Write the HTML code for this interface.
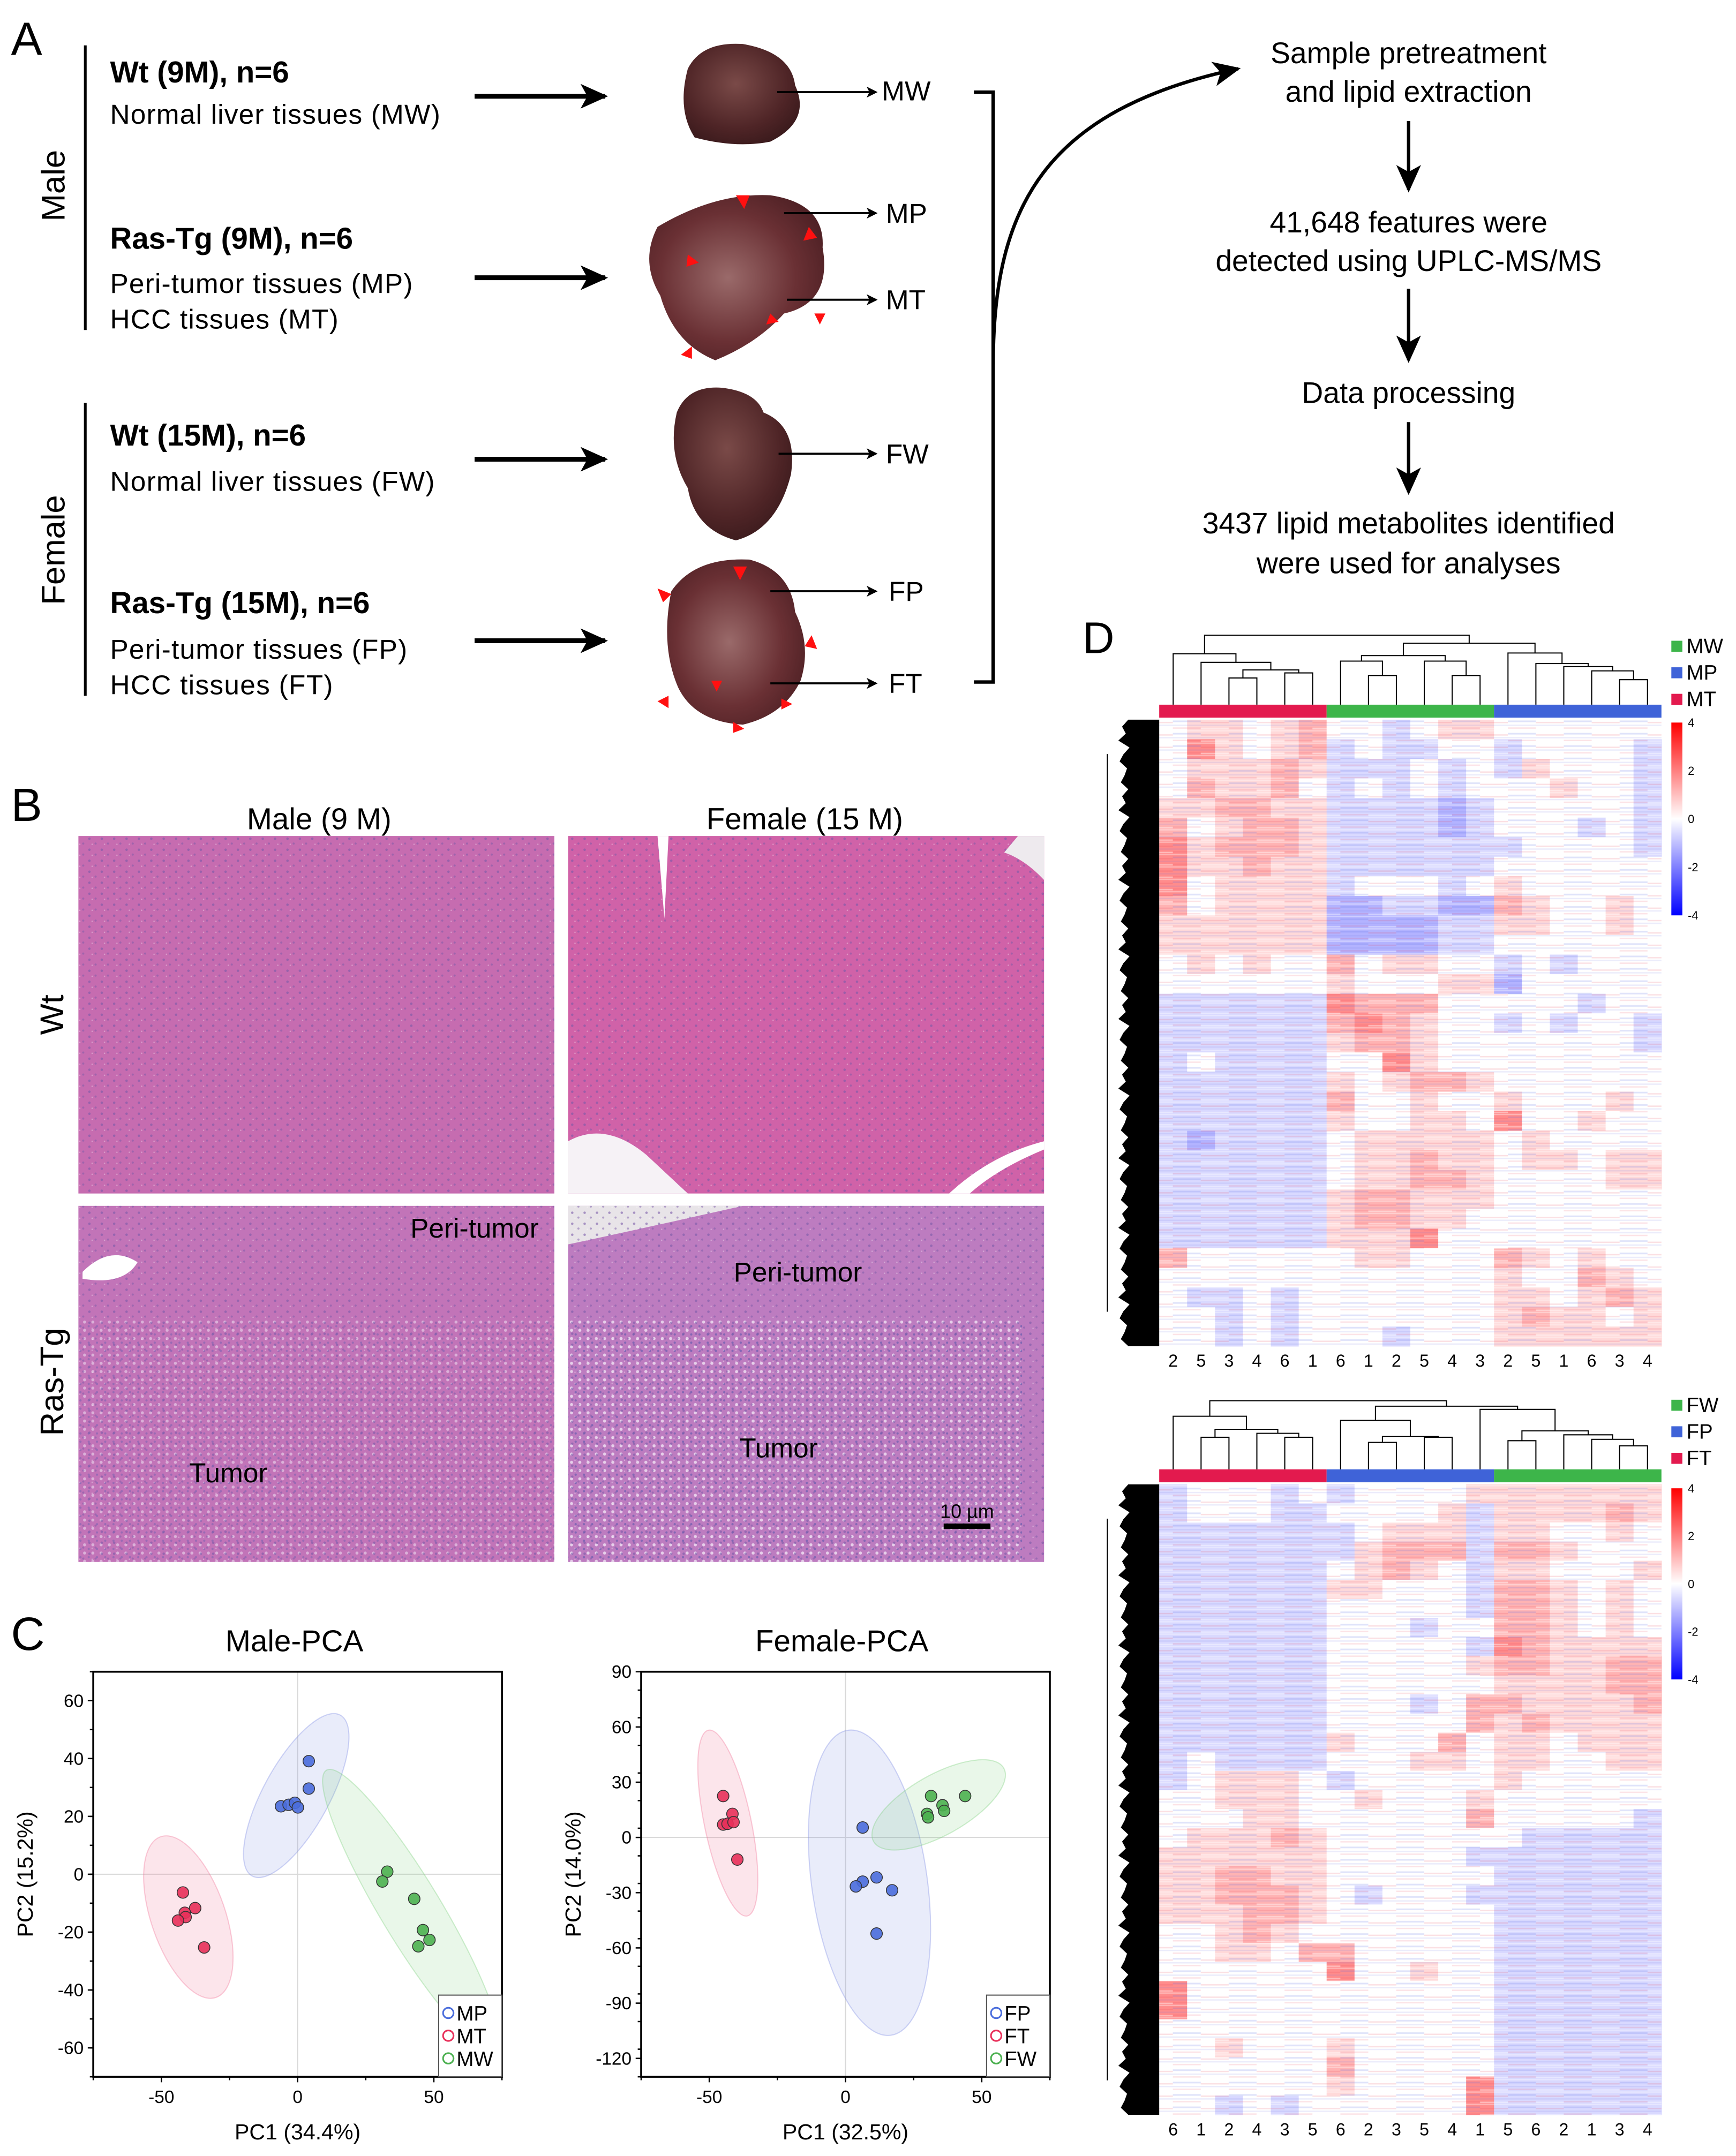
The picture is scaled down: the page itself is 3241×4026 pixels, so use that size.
<!DOCTYPE html>
<html><head><meta charset="utf-8">
<style>
html,body{margin:0;padding:0;background:#fff;}
#root{width:3241px;height:4026px;overflow:hidden;}
svg text{font-family:"Liberation Sans",Arial,sans-serif;fill:#000;}
.nar{font-family:"Liberation Sans Narrow","Liberation Sans",sans-serif !important;}
</style></head>
<body>
<div id="root">
<svg id="fig" width="3241" height="4026" viewBox="0 0 1262 1568" preserveAspectRatio="none" xmlns="http://www.w3.org/2000/svg">
<defs>
<radialGradient id="liver" cx="45%" cy="40%" r="65%"><stop offset="0" stop-color="#7a4a48"/><stop offset="0.7" stop-color="#4e2426"/><stop offset="1" stop-color="#3a1a1c"/></radialGradient>
<radialGradient id="liverT" cx="45%" cy="50%" r="65%"><stop offset="0" stop-color="#9a6a6a"/><stop offset="0.6" stop-color="#6a3034"/><stop offset="1" stop-color="#4a1e22"/></radialGradient>
<pattern id="nuc" width="9" height="8" patternUnits="userSpaceOnUse"><circle cx="2" cy="2" r="0.9" fill="#7a5aa8" opacity="0.6"/><circle cx="6.5" cy="5.5" r="0.8" fill="#7a5aa8" opacity="0.5"/><circle cx="4" cy="6" r="0.5" fill="#fff" opacity="0.35"/></pattern>
<pattern id="tum" width="6" height="6" patternUnits="userSpaceOnUse"><circle cx="1.5" cy="1.5" r="1.1" fill="#f0e4f4" opacity="0.55"/><circle cx="4.5" cy="4.5" r="0.8" fill="#7060b0" opacity="0.5"/></pattern>
<pattern id="stripes" width="40.6" height="9" patternUnits="userSpaceOnUse"><rect x="0" y="0" width="40.6" height="1" fill="rgba(255,255,255,0.35)"/><rect x="0" y="2" width="20.3" height="1.2" fill="rgba(80,100,230,0.18)"/><rect x="20.3" y="3" width="20.3" height="1" fill="rgba(230,60,80,0.16)"/><rect x="0" y="5" width="40.6" height="1" fill="rgba(110,120,230,0.14)"/><rect x="0" y="7" width="20.3" height="1" fill="rgba(235,70,90,0.15)"/><rect x="20.3" y="7.5" width="20.3" height="1" fill="rgba(255,255,255,0.4)"/></pattern>
<linearGradient id="cbar" x1="0" y1="0" x2="0" y2="1"><stop offset="0" stop-color="#ff0000"/><stop offset="0.5" stop-color="#ffffff"/><stop offset="1" stop-color="#0000ff"/></linearGradient>
<marker id="ah" markerWidth="8" markerHeight="8" refX="7" refY="4" orient="auto" markerUnits="userSpaceOnUse"><path d="M0,0 L8,4 L0,8 L2,4 Z" fill="#000"/></marker>
<marker id="ahb" markerWidth="20" markerHeight="18" refX="18" refY="9" orient="auto" markerUnits="userSpaceOnUse"><path d="M0,0 L20,9 L0,18 L5,9 Z" fill="#000"/></marker>
</defs>

<!-- PANEL A -->
<g>
<text x="8" y="40" font-size="34">A</text>
<line x1="62" y1="33" x2="62" y2="240" stroke="#000" stroke-width="2"/>
<text transform="translate(47,135) rotate(-90)" text-anchor="middle" font-size="24">Male</text>
<text x="80" y="60" font-size="22" class="nar" font-weight="bold">Wt (9M), n=6</text>
<text x="80" y="90" font-size="20" class="nar" textLength="240">Normal liver tissues (MW)</text>
<text x="80" y="181" font-size="22" class="nar" font-weight="bold">Ras-Tg (9M), n=6</text>
<text x="80" y="213" font-size="20" class="nar" textLength="220">Peri-tumor tissues (MP)</text>
<text x="80" y="239" font-size="20" class="nar" textLength="166">HCC tissues (MT)</text>
<line x1="62" y1="293" x2="62" y2="506" stroke="#000" stroke-width="2"/>
<text transform="translate(47,400) rotate(-90)" text-anchor="middle" font-size="24">Female</text>
<text x="80" y="324" font-size="22" class="nar" font-weight="bold">Wt (15M), n=6</text>
<text x="80" y="357" font-size="20" class="nar" textLength="236">Normal liver tissues (FW)</text>
<text x="80" y="446" font-size="22" class="nar" font-weight="bold">Ras-Tg (15M), n=6</text>
<text x="80" y="479" font-size="20" class="nar" textLength="216">Peri-tumor tissues (FP)</text>
<text x="80" y="505" font-size="20" class="nar" textLength="162">HCC tissues (FT)</text>
<g stroke="#000" stroke-width="3.5" fill="none">
<line x1="345" y1="70" x2="440" y2="70" marker-end="url(#ahb)"/>
<line x1="345" y1="202" x2="440" y2="202" marker-end="url(#ahb)"/>
<line x1="345" y1="334" x2="440" y2="334" marker-end="url(#ahb)"/>
<line x1="345" y1="466" x2="440" y2="466" marker-end="url(#ahb)"/>
</g>
<path d="M500,50 Q510,30 540,32 Q575,38 578,62 Q590,88 560,103 Q535,108 505,100 Q492,80 500,50Z" fill="url(#liver)"/>
<path d="M478,165 Q520,140 560,142 Q600,148 598,180 Q605,220 570,228 Q550,250 520,262 Q490,250 480,215 Q465,190 478,165Z" fill="url(#liverT)"/>
<path d="M492,300 Q500,280 525,282 Q550,285 555,300 Q580,310 575,345 Q565,385 535,393 Q505,385 500,355 Q485,330 492,300Z" fill="url(#liver)"/>
<path d="M488,430 Q505,405 545,407 Q575,415 578,445 Q590,470 582,495 Q570,520 540,527 Q505,525 493,500 Q480,470 488,430Z" fill="url(#liverT)"/>
<g fill="#ff1010">
<path d="M535,142 l10,0 l-4,10z"/><path d="M588,165 l6,8 l-10,2z"/><path d="M500,185 l8,6 l-9,3z"/><path d="M560,228 l6,6 l-9,2z"/><path d="M592,228 l8,0 l-4,8z"/><path d="M495,258 l8,-6 l0,9z"/>
<path d="M533,412 l10,0 l-5,10z"/><path d="M478,428 l10,4 l-6,6z"/><path d="M590,462 l4,10 l-9,-2z"/><path d="M517,495 l8,0 l-4,8z"/><path d="M478,510 l8,-4 l0,9z"/><path d="M568,508 l8,4 l-8,4z"/><path d="M533,525 l8,5 l-8,3z"/>
</g>
<g stroke="#000" stroke-width="1.5">
<line x1="565" y1="67" x2="637" y2="67" marker-end="url(#ah)"/>
<line x1="570" y1="155" x2="637" y2="155" marker-end="url(#ah)"/>
<line x1="572" y1="218" x2="637" y2="218" marker-end="url(#ah)"/>
<line x1="566" y1="330" x2="637" y2="330" marker-end="url(#ah)"/>
<line x1="560" y1="430" x2="637" y2="430" marker-end="url(#ah)"/>
<line x1="560" y1="497" x2="637" y2="497" marker-end="url(#ah)"/>
</g>
<g font-size="20" class="nar">
<text x="641" y="73" class="nar">MW</text><text x="644" y="162" class="nar">MP</text><text x="644" y="225" class="nar">MT</text>
<text x="644" y="337" class="nar">FW</text><text x="646" y="437" class="nar">FP</text><text x="646" y="504" class="nar">FT</text>
</g>
<path d="M708,67 H722 V496 H708" fill="none" stroke="#000" stroke-width="2.5"/>
<path d="M722,265 C722,150 760,80 900,50" fill="none" stroke="#000" stroke-width="2.5" marker-end="url(#ahb)"/>
<g font-size="21.5" text-anchor="middle">
<text x="1024" y="46">Sample pretreatment</text>
<text x="1024" y="74">and lipid extraction</text>
<text x="1024" y="169">41,648 features were</text>
<text x="1024" y="197">detected using UPLC-MS/MS</text>
<text x="1024" y="293">Data processing</text>
<text x="1024" y="388">3437 lipid metabolites identified</text>
<text x="1024" y="417">were used for analyses</text>
</g>
<g stroke="#000" stroke-width="2.5">
<line x1="1024" y1="88" x2="1024" y2="138" marker-end="url(#ahb)"/>
<line x1="1024" y1="210" x2="1024" y2="262" marker-end="url(#ahb)"/>
<line x1="1024" y1="307" x2="1024" y2="358" marker-end="url(#ahb)"/>
</g>
</g>

<!-- PANEL B -->
<g>
<text x="8" y="597" font-size="34">B</text>
<text x="232" y="603" font-size="22" text-anchor="middle">Male (9 M)</text>
<text x="585" y="603" font-size="22" text-anchor="middle">Female (15 M)</text>
<text transform="translate(46,738) rotate(-90)" font-size="24" text-anchor="middle">Wt</text>
<text transform="translate(46,1005) rotate(-90)" font-size="24" text-anchor="middle">Ras-Tg</text>
<g><rect x="57" y="608" width="346" height="260" fill="#c66cb0"/><rect x="57" y="608" width="346" height="260" fill="url(#nuc)"/></g>
<g><rect x="413" y="608" width="346" height="260" fill="#d062a8"/><rect x="413" y="608" width="346" height="260" fill="url(#nuc)"/>
<path d="M413,830 Q440,815 470,840 L500,868 L413,868Z" fill="#f6f2f6"/><path d="M740,608 L759,608 L759,640 Q745,625 730,620Z" fill="#eeeaee"/><path d="M690,868 Q720,840 759,830 L759,836 Q725,850 705,868Z" fill="#fff"/><path d="M478,608 l8,0 l-3,60z" fill="#fff"/></g>
<g><rect x="57" y="877" width="346" height="259" fill="#c274b8"/><rect x="57" y="960" width="346" height="176" fill="url(#tum)"/><rect x="57" y="877" width="346" height="259" fill="url(#nuc)"/><path d="M60,925 Q80,905 100,918 Q90,935 60,930Z" fill="#fff"/></g>
<g><rect x="413" y="877" width="346" height="259" fill="#bd7cc0"/><path d="M413,877 H540 Q460,895 413,905Z" fill="#e8e4e8"/><rect x="413" y="960" width="330" height="176" fill="url(#tum)"/><rect x="413" y="960" width="330" height="176" fill="url(#tum)"/><rect x="413" y="877" width="346" height="259" fill="url(#nuc)"/></g>
<g font-size="20">
<text x="345" y="900" text-anchor="middle" class="nar">Peri-tumor</text>
<text x="580" y="932" text-anchor="middle" class="nar">Peri-tumor</text>
<text x="166" y="1078" text-anchor="middle" class="nar">Tumor</text>
<text x="566" y="1060" text-anchor="middle" class="nar">Tumor</text>
<text x="703" y="1104" text-anchor="middle" font-size="14" class="nar">10 µm</text>
</g>
<rect x="686" y="1108" width="34" height="4" fill="#000"/>
</g>

<!-- PANEL C -->
<g id="panelC">
<text x="8" y="1200" font-size="34">C</text>
<text x="214" y="1201" font-size="22" text-anchor="middle">Male-PCA</text>
<text x="612" y="1201" font-size="22" text-anchor="middle">Female-PCA</text>
</g>

<!-- PANEL D -->
<g id="panelD">
<text x="787" y="475" font-size="32">D</text>
</g>
</svg>
</div>

<script>
// ===== PCA data =====
const maleMPx=[4.1,4.1,-6.1,-3.3,-1.0,0.1];
const maleMPy=[39.1,29.6,23.5,24.0,24.7,23.1];
const maleMTx=[-42.1,-37.6,-41.4,-41.1,-43.9,-34.3];
const maleMTy=[-6.3,-11.7,-13.3,-14.8,-16.0,-25.3];
const maleMWx=[32.9,31.1,42.8,46.0,48.4,44.3];
const maleMWy=[0.9,-2.5,-8.5,-19.3,-22.7,-24.9];
const femFPx=[6.3,11.4,6.3,3.8,17.1,11.4];
const femFPy=[5.4,-21.7,-24.0,-26.6,-28.7,-52.2];
const femFTx=[-44.9,-41.5,-44.9,-43.3,-41.1,-39.7];
const femFTy=[22.5,12.8,7.0,7.4,8.3,-12.0];
const femFWx=[31.4,35.6,36.2,29.9,30.3,43.9];
const femFWy=[22.5,17.5,14.4,12.8,10.9,22.5];
const maleEllCx=[-0.5,-40.1,41.7];
const maleEllCy=[27.2,-14.8,-12.6];
const femEllCx=[8.8,-43.2,34.2];
const femEllCy=[-24.6,7.8,17.7];
const xTicks=[-50,0,50];
const maleYTicks=[-60,-40,-20,0,20,40,60];
const femYTicks=[-120,-90,-60,-30,0,30,60,90];
const maleGroups=["MP","MT","MW"];
const femGroups=["FP","FT","FW"];

// ===== Heatmap data (each char 0..8 -> value (c-4)*0.6 ; columns MT/MW/MP and FT/FP/FW) =====
const maleCols=["2","5","3","4","6","1","6","1","2","5","4","3","2","5","1","6","3","4"];
const femCols=["6","1","2","4","3","5","6","2","3","5","4","1","5","6","2","1","3","4"];
const maleRows=["455456443455444444","475456343344344443","455565333434354443","465564343434445443","556655333323444443","645665333323444343","756665333333344443","755655333333444444","745555344434544444","645555223322654454","555555222233554454","555555222233444444","454544645544343444","444444544455244444","333333766644444344","333333676544343443","333333566544444443","343333447544444444","333333545665444444","333333644544544454","333333544554744544","323333455555454444","333333455655455455","333333455665444455","333333566555444444","333333566554444444","333333555744444444","644444455444654544","444444444444544654","433434444444554565","443434444444565545","443434443444555555"];
const femRows=["344434344445555555","344433444453555565","333333345553554454","333333356663665444","333333456543554445","333333554443665454","333333444443665454","333333444344665454","333333444443765555","333333444445665566","333333444444555566","333333444346655556","333333444446565555","333333544464554555","343333444554554455","345554344444544444","445554454445444444","444554444446444443","455565444444433333","555555444443333333","556655444444333333","556665434443333333","555665444444333333","445654444444333333","445546644444333333","444444744544333333","744444444444333333","744444444444333333","444444444444333333","445444544444333333","444444644444333333","444444544447333333","443434444447333333"];
// dendrogram merges: [childA, childB, height] ; leaves 0..17
const maleMerges=[[2,3,493.1],[4,5,489.4],[18,19,487.2],[1,20,481.7],[0,21,475.5],[7,8,491.3],[6,23,480.8],[10,11,491.3],[9,25,480.8],[24,26,476.8],[16,17,494.3],[15,28,487.9],[14,29,484.8],[13,30,482.6],[12,31,474.9],[27,32,467.8],[22,33,462]];
const femMerges=[[7,8,1049],[9,10,1045.3],[18,19,1044.6],[6,20,1033],[12,13,1047.8],[16,17,1051.5],[15,23,1046.8],[14,24,1043.5],[22,25,1040.6],[11,26,1025],[21,27,1022.7],[1,2,1045.3],[4,5,1045.3],[3,30,1042.4],[29,31,1039.5],[0,32,1030],[33,28,1018.7]];

const NS="http://www.w3.org/2000/svg";
function mk(tag,attrs,parent){const e=document.createElementNS(NS,tag);for(const k in attrs)e.setAttribute(k,attrs[k]);parent.appendChild(e);return e;}
const C=document.getElementById('panelC');
const D=document.getElementById('panelD');
const COL={blue:"#4a6ddc",red:"#e8305a",green:"#4cb050"};
const FILL={blue:"rgba(120,135,225,0.16)",red:"rgba(240,110,145,0.18)",green:"rgba(120,205,120,0.16)"};

function pca(box,ymin,ymax,yTicks,series,ells,ellGeom,groups,xTitle,yTitle,prefix){
  const sx=v=>box.l+(v+75)/150*(box.r-box.l);
  const sy=v=>box.b-(v-ymin)/(ymax-ymin)*(box.b-box.t);
  const g=mk('g',{},C);
  
  
  const z1=mk('line',{x1:sx(0),x2:sx(0),y1:box.t,y2:box.b,stroke:"#d8d8d8","stroke-width":0.8},g);
  
  
  const z2=mk('line',{x1:box.l,x2:box.r,y1:sy(0),y2:sy(0),stroke:"#d8d8d8","stroke-width":0.8},g);
  
  
  const keys=["blue","red","green"];
  ells.cx.forEach((cx,i)=>{
    const e=mk('ellipse',{cx:sx(cx),cy:sy(ells.cy[i]),rx:ellGeom[i][0],ry:ellGeom[i][1],transform:`rotate(${ellGeom[i][2]} ${sx(cx)} ${sy(ells.cy[i])})`,fill:FILL[keys[i]],stroke:FILL[keys[i]].replace(/0\.1\d\)/,'0.35)'),"stroke-width":0.8},g);
    
    
  });
  series.forEach((s,i)=>{
    s[0].forEach((x,j)=>{
      const c=mk('circle',{cx:sx(x),cy:sy(s[1][j]),r:4.2,fill:COL[keys[i]],stroke:"#333","stroke-width":0.6,"fill-opacity":0.9},g);
      
      
    });
  });
  const fr=mk('rect',{x:box.l,y:box.t,width:box.r-box.l,height:box.b-box.t,fill:"none",stroke:"#000","stroke-width":1.4},g);
  
  
  xTicks.forEach(v=>{
    mk('line',{x1:sx(v),x2:sx(v),y1:box.b,y2:box.b+4,stroke:"#000","stroke-width":1},g);
    const t=mk('text',{x:sx(v),y:box.b+19,"text-anchor":"middle","font-size":13},g);t.textContent=v;
    
    
  });
  [-75,-25,25,75].forEach(v=>mk('line',{x1:sx(v),x2:sx(v),y1:box.b,y2:box.b+2.5,stroke:"#000","stroke-width":1},g));
  const step=yTicks[1]-yTicks[0];
  for(let v=ymin;v<=ymax+0.01;v+=step/2){mk('line',{x1:box.l-2.5,x2:box.l,y1:sy(v),y2:sy(v),stroke:"#000","stroke-width":1},g);}
  yTicks.forEach(v=>{
    mk('line',{x1:box.l-4,x2:box.l,y1:sy(v),y2:sy(v),stroke:"#000","stroke-width":1},g);
    const t=mk('text',{x:box.l-7,y:sy(v)+4.5,"text-anchor":"end","font-size":13},g);t.textContent=v;
    
    
  });
  const xt=mk('text',{x:(box.l+box.r)/2,y:1556,"text-anchor":"middle","font-size":16},g);xt.textContent=xTitle;
  
  
  const yx=box.l-44;
  const yt=mk('text',{transform:`translate(${yx},${(box.t+box.b)/2}) rotate(-90)`,"text-anchor":"middle","font-size":16},g);yt.textContent=yTitle;
  
  
  const lx=box.r-46, ly=1451;
  const lg=mk('g',{},g);
  
  
  mk('rect',{x:lx,y:ly,width:46,height:box.b-ly,fill:"#fff",stroke:"#555","stroke-width":0.8},lg);
  groups.forEach((gname,i)=>{
    const yy=ly+13+i*16.5;
    const c=mk('circle',{cx:lx+7,cy:yy,r:3.8,fill:"none",stroke:COL[keys[i]],"stroke-width":1.2},lg);
    
    
    const t=mk('text',{x:lx+13,y:yy+5.5,"font-size":15},lg);t.textContent=gname;
    
    
  });
}
pca({l:67.8,r:364.9,t:1215.8,b:1510.4},-70,70,maleYTicks,[[maleMPx,maleMPy],[maleMTx,maleMTy],[maleMWx,maleMWy]],{cx:maleEllCx,cy:maleEllCy},[[66.7,24,118.7],[61.8,27,71],[119.3,22,58.9]],maleGroups,"PC1 (34.4%)","PC2 (15.2%)","male-pca");
pca({l:466.1,r:763.2,t:1215.8,b:1510.4},-130,90,femYTicks,[[femFPx,femFPy],[femFTx,femFTy],[femFWx,femFWy]],{cx:femEllCx,cy:femEllCy},[[112,42,82],[69,17,78.2],[54.3,22,-29.4]],femGroups,"PC1 (32.5%)","PC2 (14.0%)","female-pca");

// ===== Heatmaps =====
function colorOf(v){const t=Math.max(-1,Math.min(1,v/4));
  if(t>=0){const c=Math.round(255*(1-t));return `rgb(255,${c},${c})`;}
  const c=Math.round(255*(1+t));return `rgb(${c},${c},255)`;}
function heatmap(cfg){
  const L=842.7,R=1207.8,cw=(R-L)/18;
  const cx=i=>L+(i+0.5)*cw;
  const g=mk('g',{},D);
  
  
  const rh=(cfg.bottom-cfg.top)/cfg.rows.length;
  cfg.rows.forEach((row,ri)=>{
    for(let ci=0;ci<18;ci++){
      const v=(parseInt(row[ci])-4)*0.6;
      const r=mk('rect',{x:L+ci*cw,y:cfg.top+ri*rh,width:cw+0.3,height:rh+0.3,fill:colorOf(v)},g);
      
      
    }
  });
  const ov=mk('rect',{x:L,y:cfg.top,width:R-L,height:cfg.bottom-cfg.top,fill:"url(#stripes)"},g);
  
  
  cfg.barColors.forEach((c,i)=>{
    const b=mk('rect',{x:L+i*6*cw,y:cfg.barTop,width:6*cw,height:cfg.top-cfg.barTop-1.5,fill:c},g);
    
    
  });
  const nx=[],nh=[];
  for(let i=0;i<18;i++){nx.push(cx(i));nh.push(cfg.barTop);}
  let d="";
  cfg.merges.forEach(m=>{
    const a=m[0],b=m[1],h=m[2];
    d+=`M${nx[a]},${nh[a]}V${h}H${nx[b]}V${nh[b]}`;
    nx.push((nx[a]+nx[b])/2);nh.push(h);
  });
  const dp=mk('path',{d:d,fill:"none",stroke:"#000","stroke-width":0.8},g);
  
  
  let p=`M842.7,${cfg.top}`;
  const n=90;
  for(let k=0;k<=n;k++){const y=cfg.top+(cfg.bottom-cfg.top)*k/n;const w=[10,20,14,26,8,18,24,12,16,22][k%10];p+=`L${842.7-18-w*0.45},${y}`;}
  p+=`L842.7,${cfg.bottom}Z`;
  const rd=mk('path',{d:p,fill:"#000"},g);
  
  
  mk('line',{x1:805,x2:805,y1:cfg.top+25,y2:cfg.bottom-25,stroke:"#000","stroke-width":0.8},g);
  cfg.labels.forEach((lab,i)=>{
    const t=mk('text',{x:cx(i),y:cfg.bottom+15,"text-anchor":"middle","font-size":12.5},g);t.textContent=lab;
    
    
  });
  cfg.legend.forEach((lg,i)=>{
    const y=cfg.legTop+i*19.3;
    const s=mk('rect',{x:1215,y:y-8,width:8,height:8,fill:lg[1]},g);
    
    
    const t=mk('text',{x:1226,y:y+1,"font-size":15},g);t.textContent=lg[0];
    
    
  });
  const cb=mk('rect',{x:1215,y:cfg.cbTop,width:8,height:cfg.cbBot-cfg.cbTop,fill:"url(#cbar)"},g);
  
  
  [4,2,0,-2,-4].forEach((v,i)=>{
    const t=mk('text',{x:1227,y:cfg.cbTop+(cfg.cbBot-cfg.cbTop)*i/4+3,"font-size":8.5},g);t.textContent=v;
    
    
  });
}
heatmap({prefix:"male",rows:maleRows,top:523.4,bottom:979,barTop:512.5,merges:maleMerges,labels:maleCols,
  barColors:["#e31a4e","#3db54a","#3f63d8"],groups:["MT","MW","MP"],
  legend:[["MW","#3db54a"],["MP","#3f63d8"],["MT","#e31a4e"]],legTop:474,cbTop:525.5,cbBot:665.7});
heatmap({prefix:"female",rows:femRows,top:1079.5,bottom:1538,barTop:1068.6,merges:femMerges,labels:femCols,
  barColors:["#e31a4e","#3f63d8","#3db54a"],groups:["FT","FP","FW"],
  legend:[["FW","#3db54a"],["FP","#3f63d8"],["FT","#e31a4e"]],legTop:1026,cbTop:1082.4,cbBot:1221.4});
</script>
</body></html>
